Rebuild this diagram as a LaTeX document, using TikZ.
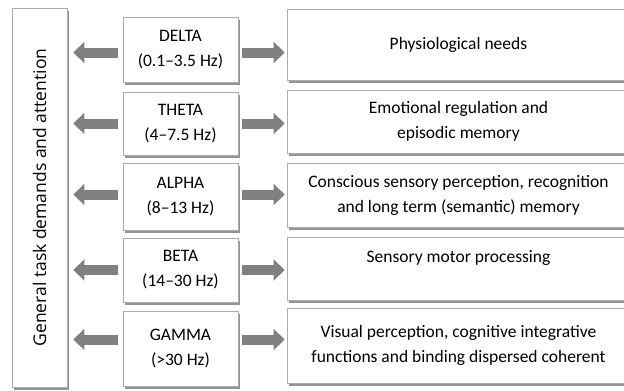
\documentclass[tikz,border=0pt]{standalone}
\usepackage{fontspec}
\setmainfont{Carlito}
\newfontfamily\sidefont{Open Sans}
\usetikzlibrary{arrows.meta,shadows}

\begin{document}
\begin{tikzpicture}[x=1pt,y=-1pt,
	box/.style={draw=gray!65,fill=white,line width=0.8pt,inner sep=0pt,align=center,
		drop shadow={shadow xshift=1.5pt,shadow yshift=-2.5pt,fill=gray!85,opacity=1},
		font=\fontsize{17.5}{25}\selectfont},
	band/.style={box,minimum width=115pt},
	role/.style={box,minimum width=343pt},
	barrow/.style={draw=gray,line width=10pt,-{Triangle[width=21pt,length=11pt]}}]
	\useasboundingbox (0,0) rectangle (624,391);
	% left column
	\node[box,minimum width=55pt,minimum height=379pt] (task) at (39.5,197.5)
		{\rotatebox{90}{\sidefont\fontsize{17.5}{20}\selectfont General task demands and attention}};
	% frequency bands
	\node[band,minimum height=65pt] (delta) at (180.5,49.5) {DELTA\\(0.1--3.5 Hz)};
	\node[band,minimum height=63pt] (theta) at (180.5,123.5) {THETA\\(4--7.5 Hz)};
	\node[band,minimum height=67pt] (alpha) at (180.5,196.5) {ALPHA\\(8--13 Hz)};
	\node[band,minimum height=64pt] (beta) at (180.5,270) {BETA\\(14--30 Hz)};
	\node[band,minimum height=75pt] (gamma) at (180.5,348.5) {GAMMA\\(>30 Hz)};
	% functions
	\node[role,minimum height=71pt] (needs) at (458.5,44.5) {Physiological needs};
	\node[role,minimum height=63pt] (emotion) at (458.5,121.5) {Emotional regulation and\\episodic memory};
	\node[role,minimum height=64pt] (sense) at (458.5,195) {Conscious sensory perception, recognition\\and long term (semantic) memory};
	\node[role,minimum height=63pt] (motor) at (458.5,268.5) {Sensory motor processing\\\mbox{}};
	\node[role,minimum height=75pt] (visual) at (458.5,345.5) {Visual perception, cognitive integrative\\functions and binding dispersed coherent};

	\foreach \b/\f/\s in {delta/needs/-3,theta/emotion/0,alpha/sense/2,beta/motor/0,gamma/visual/9}{
		\coordinate (l\b) at ([yshift=\s pt]\b.west);
		\coordinate (r\b) at ([yshift=\s pt]\b.east);
		\draw[barrow,shorten <=5pt,shorten >=6pt] (l\b) -- (l\b -| task.east);
		\draw[barrow,shorten <=4pt,shorten >=2pt] (r\b) -- (r\b -| \f.west);
	}
\end{tikzpicture}
\end{document}
